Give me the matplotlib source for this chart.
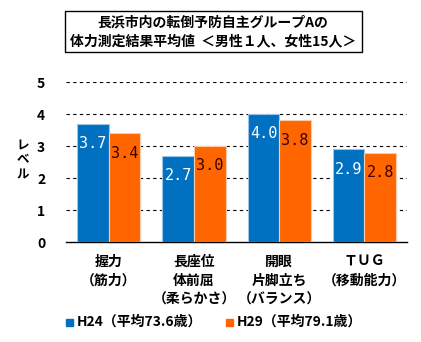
import matplotlib
matplotlib.use("Agg")
import matplotlib.pyplot as plt
from matplotlib.patches import Rectangle
import numpy as np

plt.rcParams['font.family'] = ['Noto Sans CJK JP', 'DejaVu Sans']

categories = ["握力\n（筋力）", "長座位\n体前屈\n（柔らかさ）", "開眼\n片脚立ち\n（バランス）", "ＴＵＧ\n（移動能力）"]
series_names = ["H24（平均73.6歳）", "H29（平均79.1歳）"]
h24 = [3.7, 2.7, 4.0, 2.9]
h29 = [3.4, 3.0, 3.8, 2.8]
yticks = [0, 1, 2, 3, 4, 5]
title_lines = ["長浜市内の転倒予防自主グループAの", "体力測定結果平均値  ＜男性１人、女性15人＞"]

blue = "#0070C0"
orange = "#FF6600"

fig = plt.figure(figsize=(4.21, 3.42), dpi=100)
ax = fig.add_axes([0.157, 0.292, 0.810, 0.468])

x = np.arange(len(categories))
w = 0.37
b1 = ax.bar(x - w / 2, h24, width=w, color=blue, edgecolor="#9DC3E6", linewidth=0.8, zorder=3)
b2 = ax.bar(x + w / 2, h29, width=w, color=orange, edgecolor="#F8CBAD", linewidth=0.8, zorder=3)

for rect, v in zip(b1, h24):
    ax.text(rect.get_x() + rect.get_width() / 2, v - 0.62, f"{v:.1f}", ha="center", va="center",
            color="white", fontsize=11, family="DejaVu Sans Mono", zorder=4)
for rect, v in zip(b2, h29):
    ax.text(rect.get_x() + rect.get_width() / 2, v - 0.62, f"{v:.1f}", ha="center", va="center",
            color="#3A0000", fontsize=11, family="DejaVu Sans Mono", zorder=4)

ax.set_xlim(-0.5, len(categories) - 0.5)
ax.set_ylim(0, 5)
ax.set_yticks(yticks)
ax.set_yticklabels([str(t) for t in yticks], fontweight="bold", fontsize=10)
for y in yticks[1:]:
    ax.axhline(y, color="black", linestyle=(0, (3, 3)), linewidth=0.8, zorder=1)
for s in ["top", "right", "left"]:
    ax.spines[s].set_visible(False)
ax.spines["bottom"].set_linewidth(1.0)
ax.tick_params(axis="y", length=0, pad=15)
ax.tick_params(axis="x", length=0, pad=9)
ax.set_xticks(x)
ax.set_xticklabels(categories, fontweight="bold", fontsize=10, linespacing=1.45, va="top")

fig.text(23 / 421, 1 - 160 / 342, "レ\nベ\nル", ha="center", va="center", fontsize=9,
         fontweight="bold", linespacing=1.15)

# title box
fig.add_artist(Rectangle((65 / 421, 1 - 52 / 342), 297 / 421, 41 / 342, transform=fig.transFigure,
                         fill=False, edgecolor="black", linewidth=1.0))
fig.text(213 / 421, 1 - 22 / 342, title_lines[0], ha="center", va="center", fontsize=10, fontweight="bold")
fig.text(213 / 421, 1 - 41 / 342, title_lines[1], ha="center", va="center", fontsize=10, fontweight="bold")

# legend
for (xs, col, name) in [(70, blue, series_names[0]), (230, orange, series_names[1])]:
    fig.add_artist(Rectangle(((xs - 4) / 421, 1 - 326 / 342), 7 / 421, 7 / 342, transform=fig.transFigure,
                             color=col))
    fig.text((xs + 7) / 421, 1 - 322 / 342, name, ha="left", va="center", fontsize=10, fontweight="bold")

fig.savefig("out.png", dpi=100)
